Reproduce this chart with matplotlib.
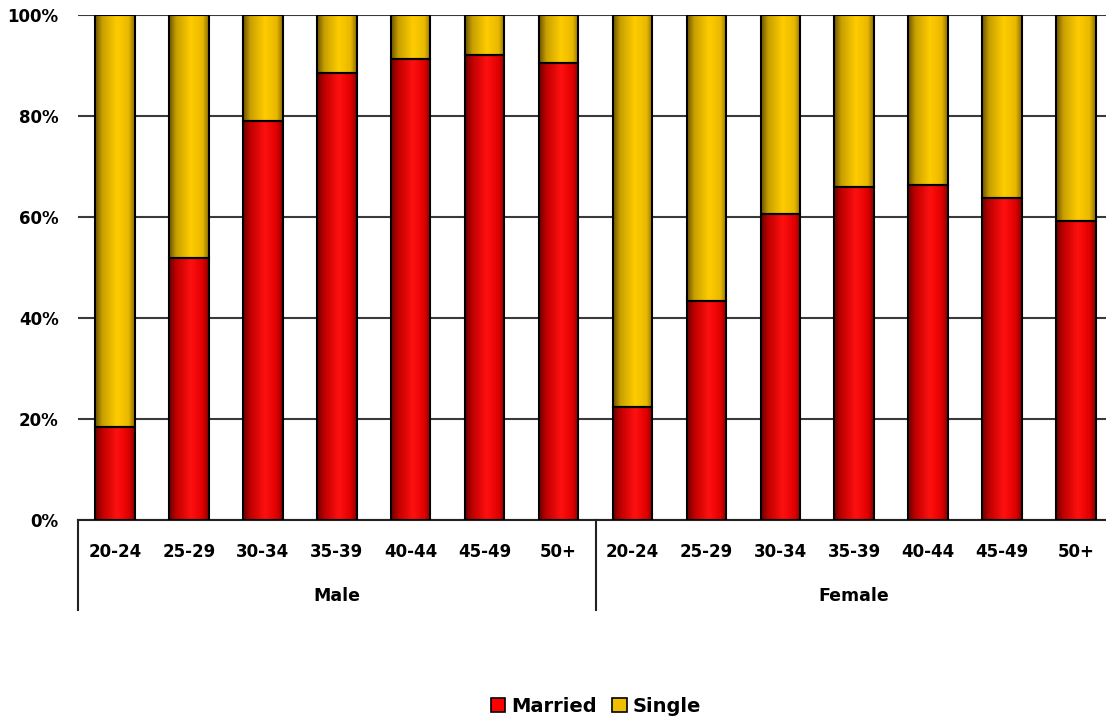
import matplotlib.pyplot as plt
import numpy as np
from matplotlib.colors import LinearSegmentedColormap
from matplotlib.patches import Patch

# data (percent married; single = rest)
ages = ["20-24", "25-29", "30-34", "35-39", "40-44", "45-49", "50+"]
groups = ["Male", "Female"]
married_male = [18.4, 51.8, 79.1, 88.6, 91.3, 92.1, 90.4]
married_female = [22.4, 43.3, 60.6, 65.9, 66.3, 63.8, 59.3]

married = married_male + married_female
single = [100 - m for m in married]
labels = ages * len(groups)
x = np.arange(len(labels))

plt.rcParams['font.family'] = ['DejaVu Sans']
plt.rcParams['font.weight'] = 'bold'

red_cmap = LinearSegmentedColormap.from_list(
    "red", [(0, '#6e0000'), (0.18, '#c00000'), (0.55, '#ff1010'), (0.85, '#e00000'), (1, '#8a0000')])
gold_cmap = LinearSegmentedColormap.from_list(
    "gold", [(0, '#6e5600'), (0.18, '#c8a000'), (0.55, '#ffcc00'), (0.85, '#e8b800'), (1, '#8e7000')])

W, H = 1106, 719
fig = plt.figure(figsize=(W / 100, H / 100), dpi=100)
ax = fig.add_axes([78 / W, (H - 520) / H, (1113 - 78) / W, 505 / H])

bw = 0.535
bars_m = ax.bar(x, married, bw, facecolor='none', edgecolor='black', linewidth=1.5, zorder=3)
bars_s = ax.bar(x, single, bw, bottom=married, facecolor='none', edgecolor='black', linewidth=1.5, zorder=3)

grad = np.linspace(0, 1, 64).reshape(1, -1)
for bars, cmap in ((bars_m, red_cmap), (bars_s, gold_cmap)):
    for rect in bars:
        x0, y0 = rect.get_x(), rect.get_y()
        w, h = rect.get_width(), rect.get_height()
        im = ax.imshow(grad, cmap=cmap, extent=[x0, x0 + w, y0, y0 + h],
                       aspect='auto', zorder=2, interpolation='bilinear')
        im.set_clip_path(rect)

ax.set_xlim(-0.5, len(labels) - 0.5)
ax.set_ylim(0, 100)
ax.set_yticks(range(0, 101, 20))
ax.set_yticklabels([f"{v}%" for v in range(0, 101, 20)], fontsize=12, fontweight='bold')
ax.tick_params(axis='y', length=0, pad=14)
ax.set_xticks([])
ax.yaxis.grid(True, color='#3a3a3a', linewidth=1.5)
ax.set_axisbelow(True)
for s in ('left', 'right', 'top'):
    ax.spines[s].set_visible(False)
ax.spines['bottom'].set_color('#222222')
ax.spines['bottom'].set_linewidth(1.5)

tr = ax.get_xaxis_transform()
for i, lab in enumerate(labels):
    ax.text(i, -32 / 505, lab, transform=tr, ha='center', va='center',
            fontsize=12, fontweight='bold')
for g, name in enumerate(groups):
    mid = g * len(ages) + (len(ages) - 1) / 2
    ax.text(mid, -76 / 505, name, transform=tr, ha='center', va='center',
            fontsize=12.5, fontweight='bold')
for g in range(len(groups) + 1):
    xs = g * len(ages) - 0.5
    ax.plot([xs, xs], [0, -90 / 505], transform=tr, color='#222222',
            linewidth=1.5, clip_on=False)

handles = [Patch(facecolor='#ff0000', edgecolor='black', linewidth=1.2),
           Patch(facecolor='#f0c000', edgecolor='black', linewidth=1.2)]
fig.legend(handles, ["Married", "Single"], loc='center', ncol=2, frameon=False,
           bbox_to_anchor=(596 / W, 1 - 706 / H), prop={'size': 14, 'weight': 'bold'},
           handlelength=0.75, handleheight=0.75, handletextpad=0.3, columnspacing=0.8)

fig.savefig("out.png", dpi=100)
